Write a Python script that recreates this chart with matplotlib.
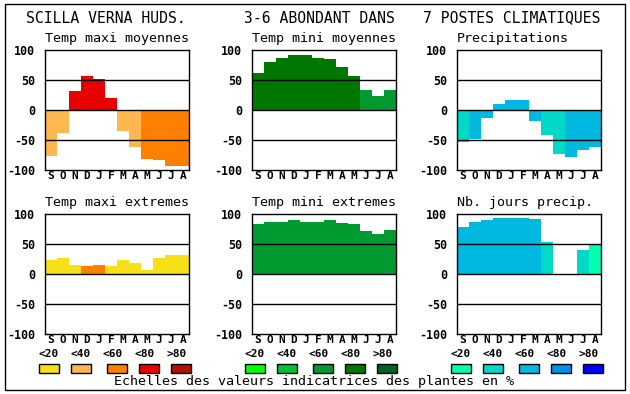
import matplotlib
matplotlib.use("Agg")
import matplotlib.pyplot as plt
from matplotlib.patches import Rectangle

# month letters, Sept -> Aug
months = ["S", "O", "N", "D", "J", "F", "M", "A", "M", "J", "J", "A"]
yticks = [-100, -50, 0, 50, 100]
classes = ["<20", "<40", "<60", "<80", ">80"]

# colour scales (index = class of the bar)
temp_max_colors = ["#f8e018", "#ffb850", "#ff8000", "#e80000", "#b01000"]
temp_min_colors = ["#00ff00", "#00c038", "#009a30", "#007800", "#006020"]
precip_colors = ["#00ffb0", "#00d8c8", "#00b8e0", "#0090e8", "#0000ff"]

# values, with their class index
tmax_moy = [-76, -38, 32, 57, 51, 20, -35, -61, -82, -83, -93, -93]
tmax_moy_cls = [1, 1, 3, 3, 3, 3, 1, 1, 2, 2, 2, 2]
tmin_moy = [62, 80, 87, 92, 92, 87, 85, 72, 57, 33, 23, 33]
tmin_moy_cls = [3, 3, 3, 3, 3, 3, 3, 3, 3, 2, 2, 2]
precip = [-54, -48, -13, 10, 17, 17, -18, -41, -74, -78, -66, -61]
precip_cls = [1, 2, 2, 2, 2, 2, 2, 1, 1, 2, 2, 2]
tmax_ext = [24, 27, 15, 14, 15, 14, 23, 18, 6, 26, 31, 31]
tmax_ext_cls = [0, 0, 0, 2, 2, 0, 0, 0, 0, 0, 0, 0]
tmin_ext = [84, 87, 87, 90, 87, 87, 90, 85, 83, 72, 67, 74]
tmin_ext_cls = [2] * 12
njours = [78, 87, 90, 94, 94, 94, 92, 54, -2, -2, 40, 50]
njours_cls = [2, 2, 2, 2, 2, 2, 2, 1, 2, 2, 1, 0]

W, H = 630, 394
MONO = "DejaVu Sans Mono"

fig = plt.figure(figsize=(W / 100, H / 100), dpi=100)
fig.patch.set_facecolor("white")

bg = fig.add_axes([0, 0, 1, 1])
bg.set_xlim(0, W)
bg.set_ylim(H, 0)
bg.axis("off")
bg.add_patch(Rectangle((5, 4), 620, 386, fill=False, edgecolor="black", lw=1))


def panel(left, top, title, values, cls, palette):
    ax = fig.add_axes([left / W, 1 - (top + 120) / H, 144 / W, 120 / H])
    ax.bar(range(12), values, width=1.0, color=[palette[c] for c in cls],
           linewidth=0, zorder=1)
    for y in (50, 0, -50):
        ax.axhline(y, color="black", lw=1, zorder=2)
    ax.set_xlim(-0.5, 11.5)
    ax.set_ylim(-100, 100)
    ax.set_yticks(yticks)
    ax.set_yticklabels([str(t) for t in yticks], fontfamily=MONO,
                       fontweight="bold", fontsize=8.4)
    ax.set_xticks(range(12))
    ax.set_xticklabels(months, fontfamily=MONO, fontweight="bold", fontsize=8)
    ax.tick_params(length=0, pad=1)
    ax.tick_params(axis="y", pad=7)
    for s in ax.spines.values():
        s.set_linewidth(1)
    bg.text(left, top - 12, title, fontfamily=MONO, fontsize=9.6,
            ha="left", va="center")
    return ax


panel(45, 50, "Temp maxi moyennes", tmax_moy, tmax_moy_cls, temp_max_colors)
panel(252, 50, "Temp mini moyennes", tmin_moy, tmin_moy_cls, temp_min_colors)
panel(457, 50, "Precipitations", precip, precip_cls, precip_colors)
panel(45, 214, "Temp maxi extremes", tmax_ext, tmax_ext_cls, temp_max_colors)
panel(252, 214, "Temp mini extremes", tmin_ext, tmin_ext_cls, temp_min_colors)
panel(457, 214, "Nb. jours precip.", njours, njours_cls, precip_colors)

# headline
bg.text(106, 18, "SCILLA VERNA HUDS.", fontfamily=MONO, fontsize=10.6,
        ha="center", va="center")
bg.text(319, 18, "3-6 ABONDANT DANS", fontfamily=MONO, fontsize=10.6,
        ha="center", va="center")
bg.text(512, 18, "7 POSTES CLIMATIQUES", fontfamily=MONO, fontsize=10.6,
        ha="center", va="center")

# colour scales under each column
for x0, palette in ((39, temp_max_colors), (245, temp_min_colors), (451, precip_colors)):
    label_x = [x0 + 10 + 32 * i for i in range(5)]
    box_x = [x0, x0 + 32, x0 + 68, x0 + 100, x0 + 132]
    for i in range(5):
        bg.text(label_x[i], 354, classes[i], fontfamily=MONO, fontweight="bold",
                fontsize=8, ha="center", va="center")
        bg.add_patch(Rectangle((box_x[i], 364), 20, 9, facecolor=palette[i],
                               edgecolor="black", lw=1))

bg.text(314, 382, "Echelles des valeurs indicatrices des plantes en %",
        fontfamily=MONO, fontsize=9.6, ha="center", va="center")

fig.savefig("out.png", dpi=100)
